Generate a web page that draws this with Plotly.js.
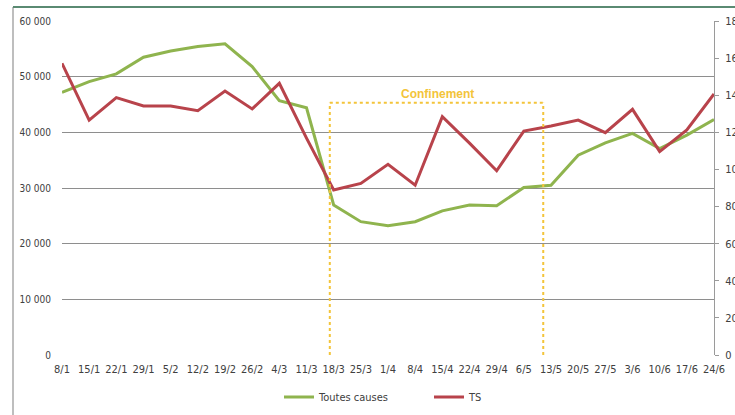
<!DOCTYPE html>
<html>
<head>
<meta charset="utf-8">
<script src="https://cdn.plot.ly/plotly-3.0.1.min.js"></script>
<style>
  html, body { margin: 0; padding: 0; background: #fff; }
  #chart { width: 735px; height: 415px; }
</style>
</head>
<body>
<div id="chart"></div>
<script>
// Week labels (dd/m, 2020)
const weeks = ['8/1','15/1','22/1','29/1','5/2','12/2','19/2','26/2','4/3','11/3','18/3','25/3','1/4','8/4','15/4','22/4','29/4','6/5','13/5','20/5','27/5','3/6','10/6','17/6','24/6'];
// Toutes causes (left axis)
const toutesCauses = [47200, 49100, 50500, 53500, 54600, 55400, 55900, 51800, 45700, 44400, 26950, 23950, 23200, 23950, 25900, 26950, 26800, 30100, 30500, 35900, 38100, 39800, 37100, 39500, 42300];
// TS (right axis)
const ts = [157.2, 126.6, 138.7, 134.2, 134.2, 131.7, 142.3, 132.6, 146.4, 116.9, 88.9, 92.5, 102.8, 91.5, 128.4, 114.2, 99.3, 120.7, 123.4, 126.6, 119.8, 132.4, 109.6, 121.3, 140.7];
// Left axis ticks
const leftTickVals = [0, 10000, 20000, 30000, 40000, 50000, 60000];
const leftTickText = ['0', '10 000', '20 000', '30 000', '40 000', '50 000', '60 000'];
// Confinement period
const firstWeek = '2020-01-08';
const confStart = '2020-03-17';
const confEnd = '2020-05-11';
const confLabel = 'Confinement';

function weekIndex(d) {
  return (new Date(d) - new Date(firstWeek)) / (7 * 86400000);
}
const cx0 = weekIndex(confStart);
const cx1 = weekIndex(confEnd);
const boxTop = 45300;

const font = 'Liberation Sans Narrow, DejaVu Sans Condensed, Arial Narrow, sans-serif';
const txt = '#404040';
const gold = '#f3c43a';

const data = [
  {
    x: weeks, y: toutesCauses, name: 'Toutes causes', type: 'scatter', mode: 'lines',
    line: { color: '#8fb44e', width: 3 }, yaxis: 'y'
  },
  {
    x: weeks, y: ts, name: 'TS', type: 'scatter', mode: 'lines',
    line: { color: '#b8434b', width: 3 }, yaxis: 'y2'
  }
];

const px = v => (v - 62) / 652;
const py = v => (355 - v) / 334;

const layout = {
  width: 735, height: 415,
  margin: { l: 62, r: 21, t: 21, b: 60, autoexpand: false },
  paper_bgcolor: '#fff', plot_bgcolor: '#fff',
  showlegend: true,
  legend: {
    orientation: 'h', x: px(279), y: (415 - 397) / 415, xref: 'paper', yref: 'container',
    xanchor: 'left', yanchor: 'middle',
    font: { family: font, size: 11, color: txt },
    entrywidth: 105, entrywidthmode: 'pixels', bgcolor: 'rgba(0,0,0,0)'
  },
  xaxis: {
    type: 'category', range: [0, 24], showgrid: false, zeroline: false, automargin: false,
    showline: false, ticks: '', tickfont: { family: font, size: 11, color: txt },
    ticklabelstandoff: 6, fixedrange: true
  },
  yaxis: {
    range: [0, 60000], tickvals: leftTickVals, ticktext: leftTickText, automargin: false,
    showgrid: true, gridcolor: '#8e8e8e', gridwidth: 1, zeroline: false,
    showline: false, ticks: '', tickfont: { family: font, size: 10, color: txt },
    ticklabelstandoff: 10
  },
  yaxis2: {
    range: [0, 180], dtick: 20, overlaying: 'y', side: 'right', automargin: false,
    showgrid: false, zeroline: false, showline: true, linecolor: '#9a9a9a', linewidth: 1,
    ticks: 'outside', ticklen: 4, tickcolor: '#9a9a9a',
    tickfont: { family: font, size: 11, color: txt }, ticklabelstandoff: 4
  },
  shapes: [
    { type: 'line', xref: 'x', yref: 'y', x0: cx0, x1: cx0, y0: 0, y1: boxTop, line: { color: gold, width: 2, dash: 'dot' } },
    { type: 'line', xref: 'x', yref: 'y', x0: cx0, x1: cx1, y0: boxTop, y1: boxTop, line: { color: gold, width: 2, dash: 'dot' } },
    { type: 'line', xref: 'x', yref: 'y', x0: cx1, x1: cx1, y0: 0, y1: boxTop, line: { color: gold, width: 2, dash: 'dot' } },
    // frame
    { type: 'line', xref: 'paper', yref: 'paper', x0: px(13), x1: px(13), y0: py(7), y1: py(416), line: { color: '#a8a8a8', width: 1.5 } },
    { type: 'line', xref: 'paper', yref: 'paper', x0: px(13), x1: px(736), y0: py(7), y1: py(7), line: { color: '#5a8a72', width: 2 } }
  ],
  annotations: [
    { x: (cx0 + cx1) / 2 + 0.05, y: 46900, xref: 'x', yref: 'y', text: '<b>' + confLabel + '</b>', showarrow: false,
      font: { family: 'Liberation Sans, Arial, sans-serif', size: 12, color: gold } }
  ]
};

Plotly.newPlot('chart', data, layout, { displayModeBar: false, staticPlot: true });
</script>
</body>
</html>
